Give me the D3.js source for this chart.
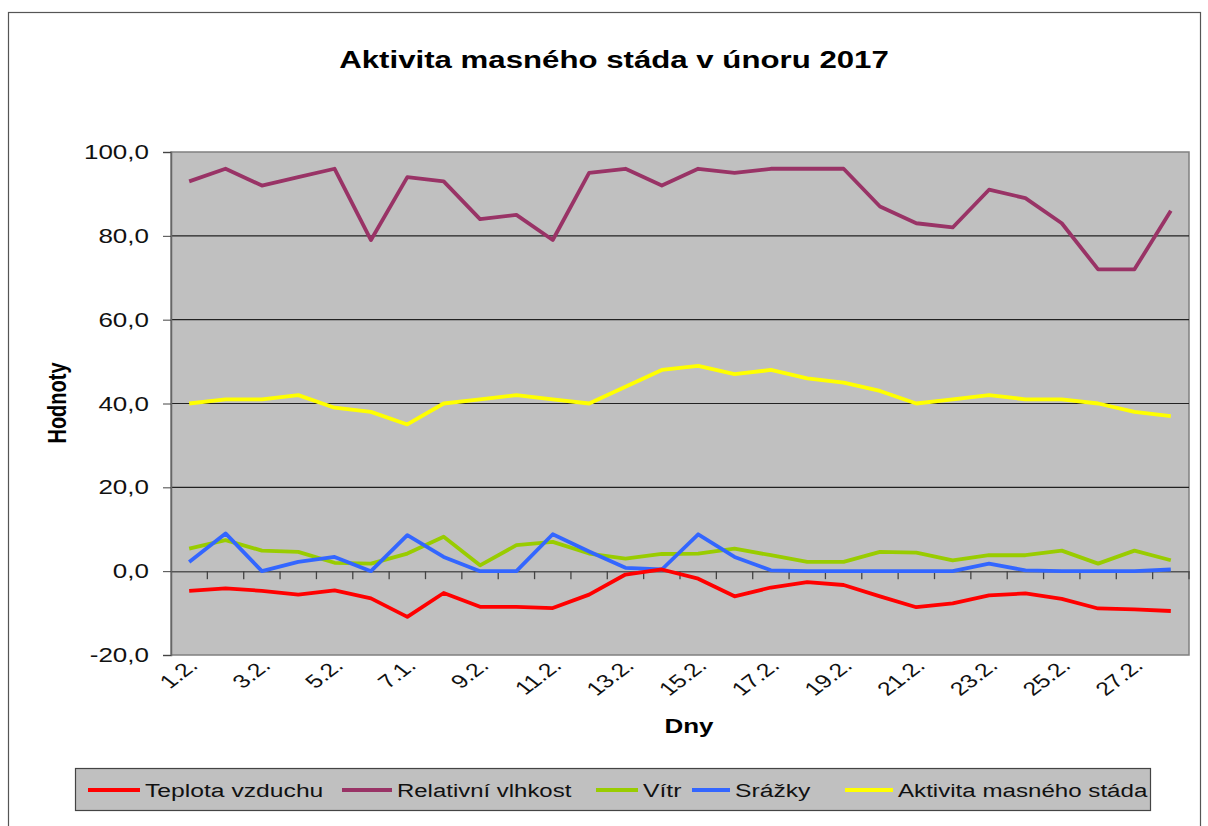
<!DOCTYPE html>
<html><head><meta charset="utf-8">
<script src="https://cdn.jsdelivr.net/npm/d3@7/dist/d3.min.js"></script>
<style>body{margin:0;background:#fff;} text{font-family:Arial,"Liberation Sans",sans-serif;}</style>
</head><body>
<svg id="c" width="1208" height="826"></svg>
<script>
const days = ["1.2.","2.2.","3.2.","4.2.","5.2.","6.2.","7.1.","8.2.","9.2.","10.2.","11.2.","12.2.","13.2.","14.2.","15.2.","16.2.","17.2.","18.2.","19.2.","20.2.","21.2.","22.2.","23.2.","24.2.","25.2.","26.2.","27.2.","28.2."];
const teplota = [-4.7,-4.1,-4.7,-5.6,-4.6,-6.5,-10.9,-5.2,-8.5,-8.5,-8.8,-5.6,-0.8,0.4,-1.8,-6.0,-3.9,-2.6,-3.3,-6.0,-8.6,-7.7,-5.8,-5.3,-6.6,-8.9,-9.1,-9.5];
const vlhkost = [93,96,92,94,96,79,94,93,84,85,79,95,96,92,96,95,96,96,96,87,83,82,91,89,83,72,72,86];
const vitr = [5.4,7.4,4.9,4.6,2.0,1.8,4.2,8.2,1.4,6.2,7.0,4.2,3.0,4.1,4.2,5.4,3.8,2.2,2.2,4.6,4.4,2.6,3.8,3.8,4.9,1.8,4.9,2.6];
const srazky = [2.2,9.0,0,2.2,3.4,0,8.6,3.4,0,0,8.8,4.7,0.8,0.4,8.8,3.4,0.2,0,0,0,0,0,1.8,0.2,0,0,0,0.4];
const aktivita = [40,41,41,42,39,38,35,40,41,42,41,40,44,48,49,47,48,46,45,43,40,41,42,41,41,40,38,37];
const yTicks = [-20,0,20,40,60,80,100];
const seriesNames = ["Teplota vzduchu","Relativní vlhkost","Vítr","Srážky","Aktivita masného stáda"];
const seriesColors = ["#ff0000","#993366","#99cc00","#3366ff","#ffff00"];
const seriesData = [teplota, vlhkost, vitr, srazky, aktivita];

const SX = 1.3; // horizontal stretch of the reference's text
const svg = d3.select("#c");
const L=171, R=1189, T=152, B=655;
const x = d3.scaleBand().domain(days).range([L,R]).paddingInner(0).paddingOuter(0);
const y = d3.scaleLinear().domain([-20,100]).range([B,T]);
const fmt = v => d3.format(".1f")(v).replace(".",",").replace("−","-");

// outer border
svg.append("rect").attr("x",8.5).attr("y",12.5).attr("width",1192).attr("height",830)
  .attr("fill","#fff").attr("stroke","#555").attr("stroke-width",1.2);

// title
svg.append("text").attr("transform",`translate(614,68) scale(${SX},1)`).attr("text-anchor","middle")
  .attr("font-size",24).attr("font-weight","bold").attr("fill","#000")
  .text("Aktivita masného stáda v únoru 2017");

// plot area
svg.append("rect").attr("x",L).attr("y",T).attr("width",R-L).attr("height",B-T)
  .attr("fill","#c0c0c0").attr("stroke","#808080").attr("stroke-width",1.5);

// gridlines
svg.append("g").selectAll("line").data(yTicks.filter(v=>v>0&&v<100)).join("line")
  .attr("x1",L).attr("x2",R).attr("y1",d=>y(d)).attr("y2",d=>y(d))
  .attr("stroke","#222").attr("stroke-width",1.2);

// y axis
const yAxis = d3.axisLeft(y).tickValues(yTicks).tickFormat("").tickSize(8);
const gy = svg.append("g").attr("transform",`translate(${L},0)`).call(yAxis);
gy.select(".domain").attr("stroke","#666").attr("stroke-width",1.5);
gy.selectAll(".tick line").attr("stroke","#444");
svg.append("g").selectAll("text").data(yTicks).join("text")
  .attr("transform",d=>`translate(149,${y(d)+7}) scale(${SX},1)`)
  .attr("text-anchor","end").attr("font-size",20).attr("fill","#111").text(fmt);

// x axis at y=0
const xAxis = d3.axisBottom(x).tickSize(0).tickFormat("");
const gx = svg.append("g").attr("transform",`translate(0,${y(0)})`).call(xAxis);
gx.select(".domain").attr("stroke","#555").attr("stroke-width",1.5);
gx.selectAll(".tick").remove();
svg.append("g").selectAll("line").data(days).join("line")
  .attr("x1",d=>x(d)+x.bandwidth()).attr("x2",d=>x(d)+x.bandwidth())
  .attr("y1",y(0)).attr("y2",y(0)+8).attr("stroke","#444").attr("stroke-width",1.3);

// x labels
svg.append("g").selectAll("text").data(days.filter((d,i)=>i%2===0)).join("text")
  .attr("transform",d=>`translate(${x(d)+x.bandwidth()/2+10},${B+12}) scale(${SX},1) rotate(-45)`)
  .attr("text-anchor","end").attr("font-size",19).attr("fill","#111").text(d=>d);

// axis titles
svg.append("text").attr("transform",`translate(66,403) scale(${SX},1) rotate(-90)`).attr("text-anchor","middle")
  .attr("font-size",20).attr("font-weight","bold").text("Hodnoty");
svg.append("text").attr("transform",`translate(689,733) scale(${SX},1)`).attr("text-anchor","middle")
  .attr("font-size",20).attr("font-weight","bold").text("Dny");

// lines
const line = d3.line().x((d,i)=>x(days[i])+x.bandwidth()/2).y(d=>y(d));
const order = [1,4,2,3,0];
svg.append("g").selectAll("path").data(order).join("path")
  .attr("d",k=>line(seriesData[k])).attr("fill","none")
  .attr("stroke",k=>seriesColors[k]).attr("stroke-width",3.8).attr("stroke-linejoin","round");

// legend
const lg = svg.append("g");
lg.append("rect").attr("x",75.5).attr("y",768.5).attr("width",1075).attr("height",42)
  .attr("fill","#c0c0c0").attr("stroke","#444").attr("stroke-width",1.2);
const legLine = [[88,140],[342,392],[596,638],[692,730],[845,893]];
const legText = [145,397,643,735,898];
const legSX = [1.3,1.26,1.3,1.3,1.27];
seriesNames.forEach((n,i)=>{
  lg.append("line").attr("x1",legLine[i][0]).attr("x2",legLine[i][1]).attr("y1",790).attr("y2",790)
    .attr("stroke",seriesColors[i]).attr("stroke-width",3.8);
  lg.append("text").attr("transform",`translate(${legText[i]},797) scale(${legSX[i]},1)`)
    .attr("font-size",19).attr("fill","#111").text(n);
});
</script>
</body></html>
